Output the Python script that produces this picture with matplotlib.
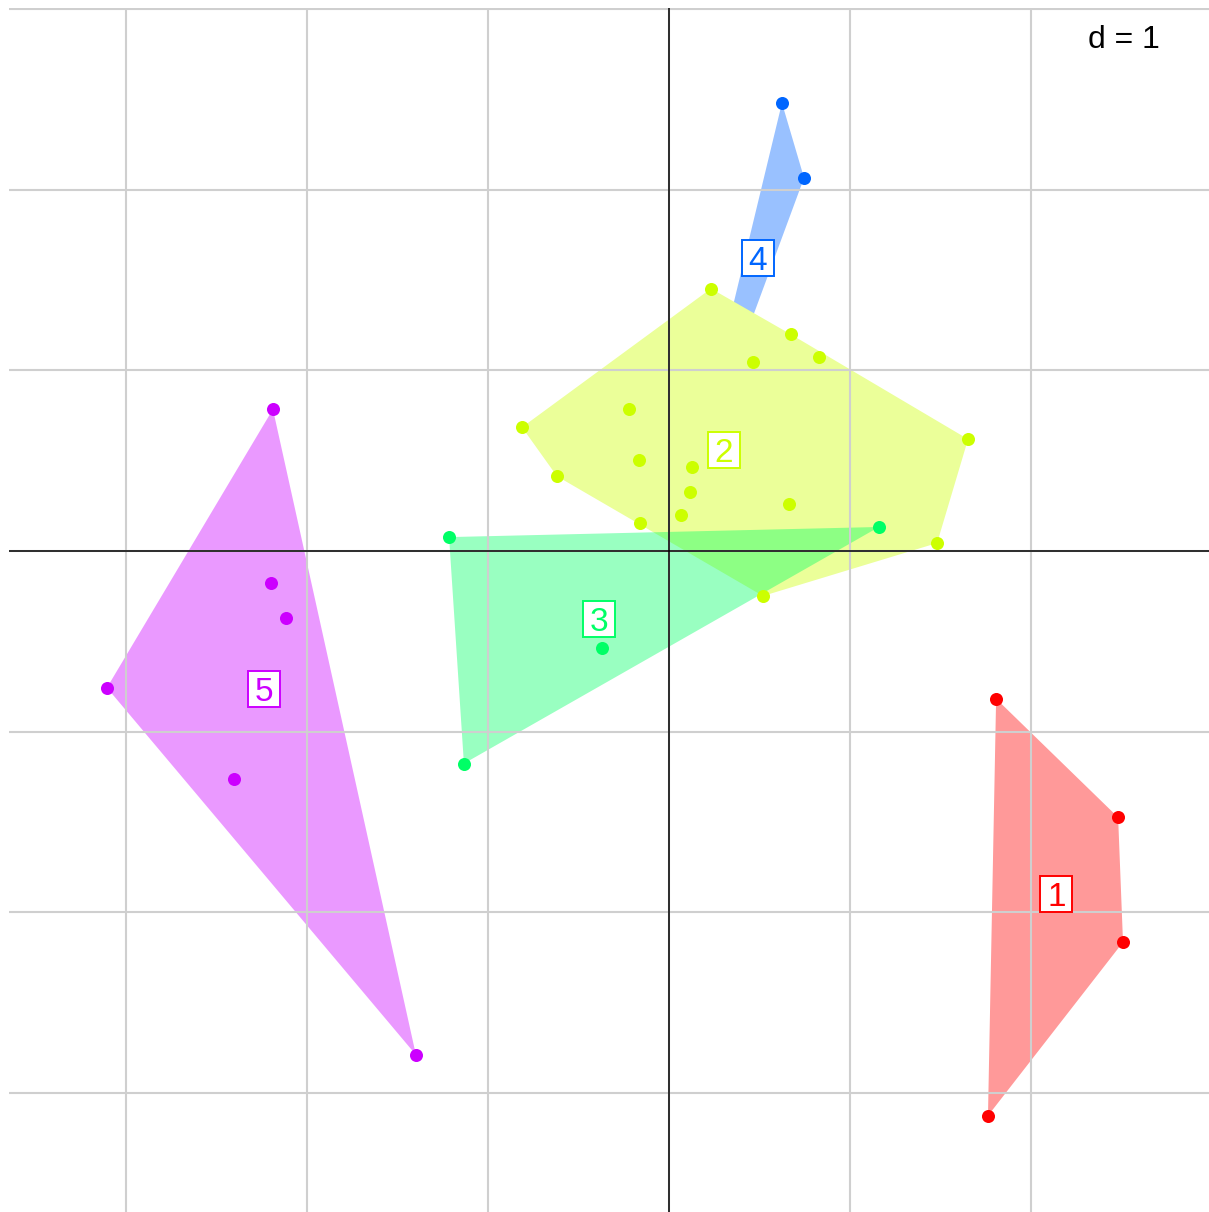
import matplotlib
matplotlib.use("Agg")
import matplotlib.pyplot as plt
from matplotlib.patches import Rectangle
import numpy as np

# group colours (R rainbow(5))
colors = ["#FF0000", "#CCFF00", "#00FF66", "#0066FF", "#CC00FF"]
labels = ["1", "2", "3", "4", "5"]

# point coordinates per group
g1_x = [1.807, 2.481, 2.508, 1.762]
g1_y = [-0.818, -1.475, -2.166, -3.127]

g2_x = [-0.812, -0.221, -0.166, -0.619, 0.127, 0.116, 0.066, -0.160,
        0.663, 1.652, 1.481, 0.519, 0.232, 0.674, 0.829, 0.464]
g2_y = [0.685, 0.785, 0.503, 0.414, 0.464, 0.326, 0.199, 0.155,
        0.260, 0.619, 0.044, -0.249, 1.453, 1.199, 1.072, 1.044]

g3_x = [-1.215, 1.160, -1.133, -0.370]
g3_y = [0.077, 0.133, -1.177, -0.536]

g4_x = [0.624, 0.746, 0.105]
g4_y = [2.481, 2.066, 0.326]

g5_x = [-2.188, -2.199, -2.116, -3.105, -2.403, -1.398]
g5_y = [0.785, -0.177, -0.370, -0.757, -1.265, -2.790]

groups = {
    "1": (g1_x, g1_y),
    "2": (g2_x, g2_y),
    "3": (g3_x, g3_y),
    "4": (g4_x, g4_y),
    "5": (g5_x, g5_y),
}


def convex_hull(pts):
    pts = sorted(set(map(tuple, pts)))
    if len(pts) < 3:
        return pts

    def cross(o, a, b):
        return (a[0] - o[0]) * (b[1] - o[1]) - (a[1] - o[1]) * (b[0] - o[0])

    lower, upper = [], []
    for p in pts:
        while len(lower) >= 2 and cross(lower[-2], lower[-1], p) <= 0:
            lower.pop()
        lower.append(p)
    for p in reversed(pts):
        while len(upper) >= 2 and cross(upper[-2], upper[-1], p) <= 0:
            upper.pop()
        upper.append(p)
    return lower[:-1] + upper[:-1]


def fill_color(hex_color, alpha=0.4):
    rgb = np.array(matplotlib.colors.to_rgb(hex_color))
    return tuple(alpha * rgb + (1 - alpha) * 1.0)


fig = plt.figure(figsize=(12.09, 12.12), dpi=100)
ax = fig.add_axes([9 / 1209, 0, 1200 / 1209, 1204 / 1212])
ax.set_xlim(-3.646, 2.983)
ax.set_ylim(-3.660, 3.0066)
ax.axis("off")

# pixel -> data unit factors (about 181 px per unit)
ux = 6.629 / 1200
uy = 6.6666 / 1204

# grid and axes drawn above the hulls
for v in range(-3, 3):
    ax.axvline(v, color="#cfcfcf", lw=1.5, zorder=5)
for v in range(-3, 4):
    ax.axhline(v, color="#cfcfcf", lw=1.5, zorder=5)
ax.axvline(0, color="black", lw=1.1, zorder=6)
ax.axhline(0, color="black", lw=1.1, zorder=6)

# draw order: blue under yellow, green over yellow
order = ["4", "2", "3", "1", "5"]
for k, name in enumerate(order):
    i = labels.index(name)
    xs, ys = groups[name]
    hull = convex_hull(list(zip(xs, ys)))
    z = 1 + k * 0.5
    if name == "2":
        ax.fill([p[0] for p in hull], [p[1] for p in hull],
                color=fill_color(colors[i]), lw=0, zorder=z)
    else:
        ax.fill([p[0] for p in hull], [p[1] for p in hull],
                color=colors[i], alpha=0.4, lw=0, zorder=z)
    if name == "4":
        ax.scatter(xs, ys, s=88, color=colors[i], lw=0, zorder=z + 0.1)
    else:
        ax.scatter(xs, ys, s=88, color=colors[i], lw=0, zorder=8)

# class labels at group means, in a 32x36 px box
bw, bh = 32 * ux, 36 * uy
for i, name in enumerate(labels):
    xs, ys = groups[name]
    cx, cy = np.mean(xs), np.mean(ys)
    ax.add_patch(Rectangle((cx - bw / 2, cy - bh / 2), bw, bh, fc="white",
                           ec=colors[i], lw=1.4, zorder=9))
    ax.text(cx, cy - 12 * uy, name, color=colors[i], fontsize=24,
            family="Liberation Sans", ha="center", va="baseline", zorder=10)

ax.text(2.713, 2.785, "d = 1", fontsize=23, family="Liberation Sans",
        ha="right", va="baseline", zorder=10)

fig.savefig("out.png", dpi=100)
